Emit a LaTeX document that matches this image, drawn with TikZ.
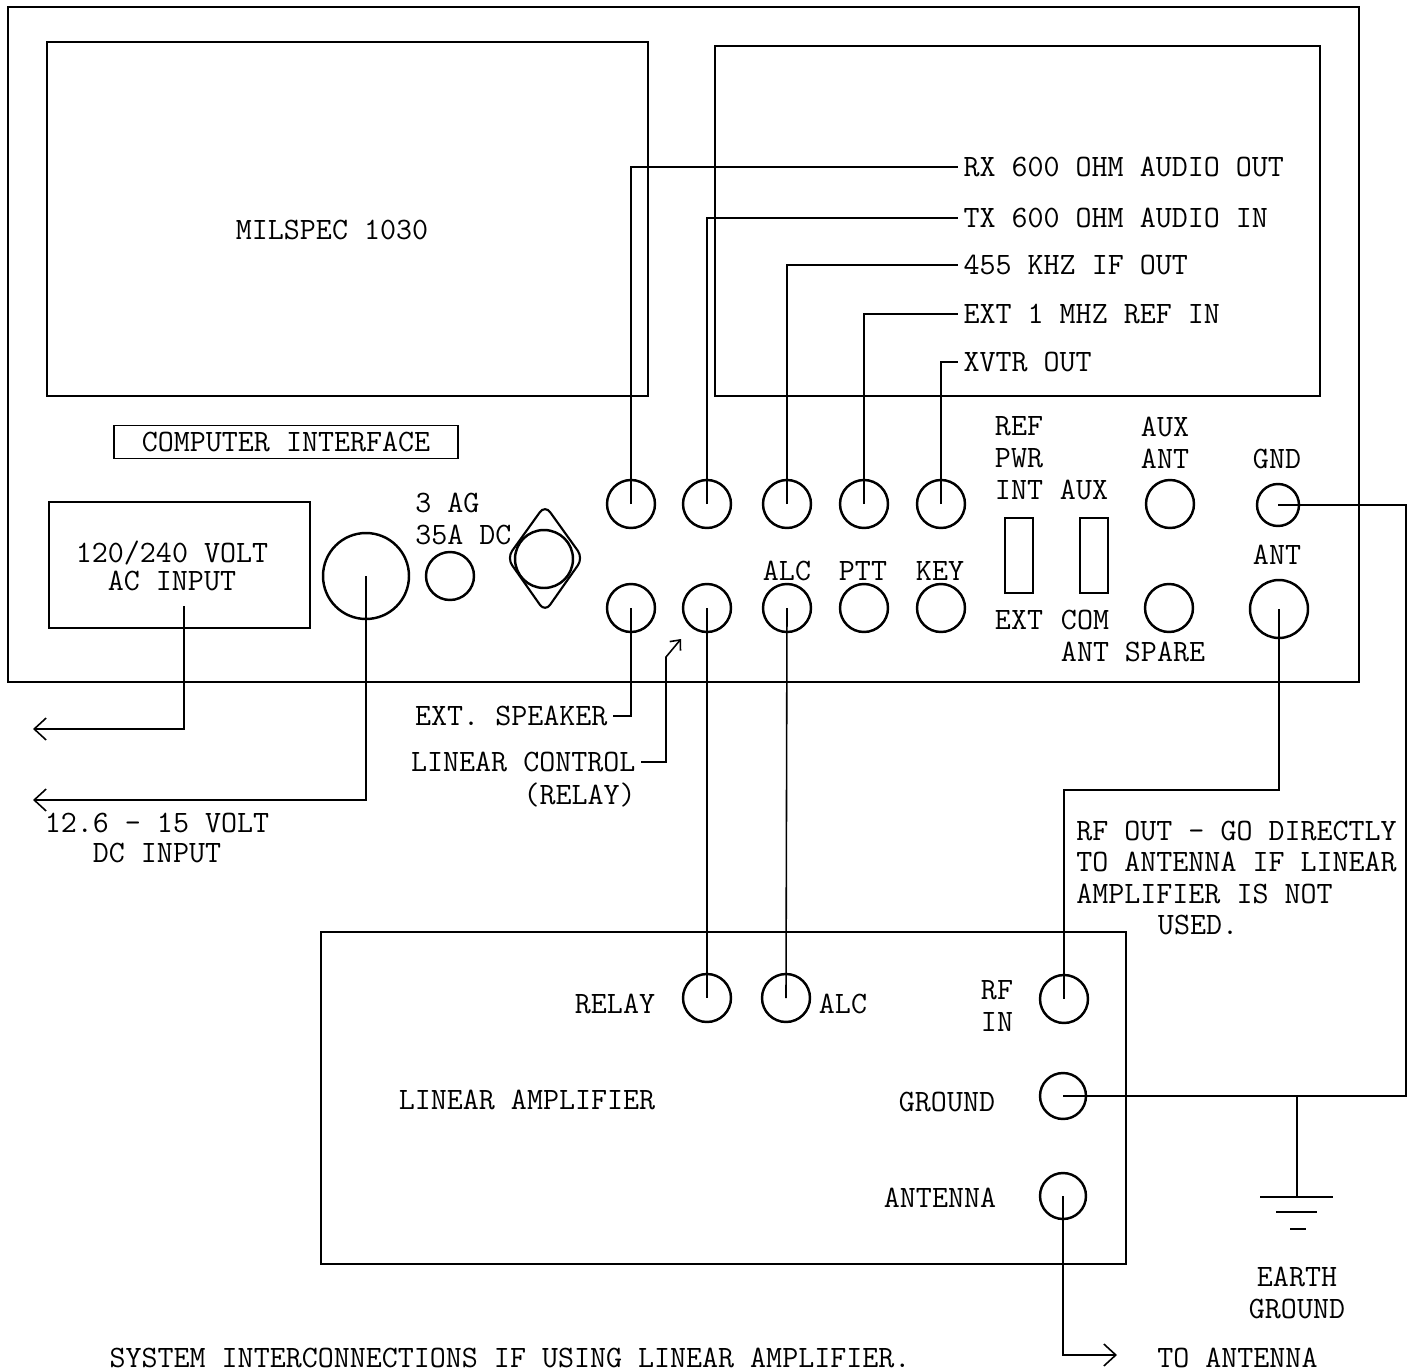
\documentclass[tikz,border=0pt]{standalone}
\usepackage{fontspec}
\usetikzlibrary{arrows.meta}
\begin{document}
\begin{tikzpicture}[x=0.02cm,y=-0.02cm,
	font=\ttfamily\fontsize{17.7}{18}\selectfont,
	wire/.style={line width=0.9pt},
	box/.style={line width=0.8pt},
	jack/.style={circle,draw,line width=1.4pt,inner sep=0pt,minimum size=0.96cm},
	tag/.style={inner xsep=3pt,inner ysep=0pt},
	barb/.style={-{Straight Barb[length=2.4mm,width=4.4mm]}}]
	\useasboundingbox (0,0) rectangle (1414,1372);
	%FRONT PANEL
	\draw[box] (8,7) rectangle (1359,682);
	\draw[box] (47,42) rectangle (648,396);
	\draw[box] (715,46) rectangle (1320,396);
	\node (milspec) at (332,230) {MILSPEC 1030};
	\node[draw,box,minimum width=6.88cm,minimum height=0.66cm,inner sep=0pt] (cpu) at (286,442) {COMPUTER INTERFACE};
	%POWER
	\draw[box] (49,502) rectangle (310,628);
	\node[align=center] (aclbl) at (172,566) {120/240 VOLT\\[-2pt]AC INPUT};
	\node[jack,minimum size=1.72cm] (dcjack) at (366,576) {};
	\node[jack] (fuse) at (450,576) {};
	\node[anchor=west,inner sep=0pt] (fuselbl) at (415,503) {3 AG};
	\node[anchor=west,inner sep=0pt] (ratelbl) at (415,535) {35A DC};
	\draw[line width=1.2pt,rounded corners=5pt] (507,558) -- (545,505) -- (583,558) -- (545,612) -- cycle;
	\node[jack,minimum size=1.16cm] (sma) at (544,559) {};
	\coordinate (acout) at (184,606);
	\coordinate (acend) at (33,729);
	\coordinate (dcend) at (33,800);
	\draw[wire,barb] (acout) |- (acend);
	\draw[wire,barb] (dcjack.center) |- (dcend);
	\node[align=center] (dclbl) at (157,838) {12.6 - 15 VOLT\\[-1pt]DC INPUT};
	%REAR JACKS
	\foreach \x [count=\i] in {631,707,787,864,941} {
		\node[jack] (u\i) at (\x,504) {};
		\node[jack] (l\i) at (\x,608) {};
	}
	\node[tag,anchor=west] (rxlbl) at (958,167) {RX 600 OHM AUDIO OUT};
	\node[tag,anchor=west] (txlbl) at (958,218) {TX 600 OHM AUDIO IN};
	\node[tag,anchor=west] (iflbl) at (958,265) {455 KHZ IF OUT};
	\node[tag,anchor=west] (reflbl) at (958,314) {EXT 1 MHZ REF IN};
	\node[tag,anchor=west] (xvtrlbl) at (958,362) {XVTR OUT};
	\draw[wire] (u1.center) |- (rxlbl.west);
	\draw[wire] (u2.center) |- (txlbl.west);
	\draw[wire] (u3.center) |- (iflbl.west);
	\draw[wire] (u4.center) |- (reflbl.west);
	\draw[wire] (u5.center) |- (xvtrlbl.west);
	\node (alclbl) at (787,571) {ALC};
	\node (pttlbl) at (863,571) {PTT};
	\node (keylbl) at (940,571) {KEY};
	\node[tag,anchor=east] (spklbl) at (613,716) {EXT. SPEAKER};
	\draw[wire] (l1.center) |- (spklbl.east);
	\node[tag,anchor=east] (linlbl) at (641,762) {LINEAR CONTROL};
	\node[anchor=east,inner sep=0pt] (rlylbl) at (636,795) {(RELAY)};
	\coordinate (lcknee) at (666,657);
	\coordinate (lctip) at (681,639);
	\draw[wire,-{Straight Barb[length=1.6mm,width=2.8mm]}] (linlbl.east) -| (lcknee) -- (lctip);
	%SWITCHES
	\node[align=center] (pwrlbl) at (1019,458) {REF\\PWR\\INT};
	\node (auxlbl) at (1084,490) {AUX};
	\draw[line width=1.1pt] (1005,518) rectangle (1033,593);
	\draw[line width=1.1pt] (1080,518) rectangle (1108,593);
	\node (extlbl) at (1019,620) {EXT};
	\node[align=center] (comlbl) at (1085,636) {COM\\ANT};
	\node[align=center] (auxantlbl) at (1165,443) {AUX\\ANT};
	\node[jack] (auxant) at (1170,504) {};
	\node[jack] (spare) at (1169,608) {};
	\node (sparelbl) at (1165,652) {SPARE};
	\node (gndtop) at (1277,459) {GND};
	\node[jack,minimum size=0.84cm] (gnd) at (1278,505) {};
	\node (anttop) at (1277,555) {ANT};
	\node[jack,minimum size=1.16cm] (ant) at (1279,609) {};
	%LINEAR AMPLIFIER
	\draw[box] (321,932) rectangle (1126,1264);
	\node (amplbl) at (527,1100) {LINEAR AMPLIFIER};
	\node[jack] (amprelay) at (707,998) {};
	\node[jack] (ampalc) at (786,998) {};
	\node[jack] (rfin) at (1064,999) {};
	\node[jack,minimum size=0.92cm] (ampgnd) at (1063,1096) {};
	\node[jack,minimum size=0.92cm] (ampant) at (1063,1196) {};
	\node (relaylbl) at (615,1004) {RELAY};
	\node (alc2lbl) at (843,1004) {ALC};
	\node[align=center] (rfinlbl) at (997,1006) {RF\\IN};
	\node (gndlbl) at (947,1102) {GROUND};
	\node (antlbl) at (940,1198) {ANTENNA};
	\draw[wire] (l2.center) -- (amprelay.center);
	\draw[wire] (l3.center) -- (ampalc.center);
	%GROUND AND RF
	\coordinate (gndrt) at (1406,800);
	\draw[wire] (gnd.center) -| (gndrt) |- (ampgnd.center);
	\coordinate (rfknee) at (1170,790);
	\draw[wire] (ant.center) |- (rfknee) -| (rfin.center);
	\node[align=left,anchor=west,inner sep=0pt] (rfnote) at (1076,878) {RF OUT - GO DIRECTLY\\TO ANTENNA IF LINEAR\\AMPLIFIER IS NOT\\\hspace*{2.625em}USED.};
	\coordinate (earthtop) at (1297,1096);
	\coordinate (earth) at (1297,1197);
	\draw[wire] (earthtop) -- (earth);
	\draw[line width=1.3pt] (earth) ++(-37,0) -- ++(73,0) (earth) ++(-21,15) -- ++(41,0) (earth) ++(-7,32) -- ++(16,0);
	\node[align=center] (earthlbl) at (1297,1293) {EARTH\\[0.7pt]GROUND};
	\coordinate (antend) at (1117,1355);
	\draw[wire,barb] (ampant.center) |- (antend);
	\node[anchor=west,inner sep=0pt] (tolbl) at (1157,1358) {TO ANTENNA};
	\node (caption) at (510,1358) {SYSTEM INTERCONNECTIONS IF USING LINEAR AMPLIFIER.};
\end{tikzpicture}
\end{document}
